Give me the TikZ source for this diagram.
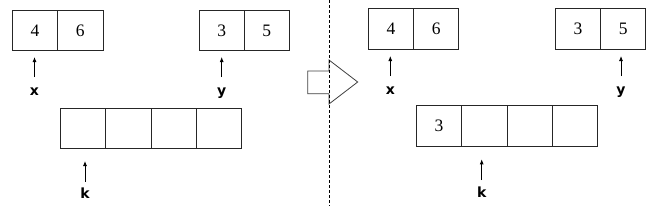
\documentclass[tikz,border=0pt]{standalone}
\usepackage{fontspec}
\setmainfont{Liberation Serif}
\newfontfamily\lblfont{DejaVu Sans}
\usetikzlibrary{arrows.meta}
\tikzset{
  cell/.style={draw=black!85, line width=0.9pt, minimum width=45.3pt, minimum height=40.5pt, inner sep=0pt, font=\fontsize{17.5}{17.5}\selectfont},
  lbl/.style={anchor=base, inner sep=0pt, font=\lblfont\bfseries\fontsize{14}{14}\selectfont},
  ptr/.style={line width=0.8pt, -{Latex[length=5pt,width=4pt]}},
  sep/.style={line width=0.8pt, dash pattern=on 3pt off 2pt},
  blockarrow/.style={draw=black!75, line width=0.8pt, fill=white}
}
\begin{document}
\begin{tikzpicture}[x=1pt,y=-1pt]
\useasboundingbox (0,0) rectangle (658,206);
% ---------- left panel ----------
\node[cell] (Lx1) at (34.9,30.5) {4};
\node[cell] (Lx2) at (80.3,30.5) {6};
\node[cell] (Ly1) at (221.8,30.5) {3};
\node[cell] (Ly2) at (266.8,30.5) {5};
\node[cell] (Lk1) at (83.0,128.2) {};
\node[cell] (Lk2) at (128.3,128.2) {};
\node[cell] (Lk3) at (173.6,128.2) {};
\node[cell] (Lk4) at (218.9,128.2) {};
\node[lbl] (Lxl) at (34.5,95) {x};
\node[lbl] (Lyl) at (221.7,95) {y};
\node[lbl] (Lkl) at (85,198.5) {k};
\coordinate (LxT) at (34.5,77);
\coordinate (LxH) at (34.5,57);
\coordinate (LyT) at (221.7,77);
\coordinate (LyH) at (221.7,57);
\coordinate (LkT) at (85,181.5);
\coordinate (LkH) at (85,161);
\draw[ptr] (LxT) -- (LxH);
\draw[ptr] (LyT) -- (LyH);
\draw[ptr] (LkT) -- (LkH);
% ---------- separator and block arrow ----------
\coordinate (S1) at (329,0);
\coordinate (S2) at (329,206);
\draw[blockarrow] (307.7,71) -- (329,71) -- (329,60) -- (357.7,82) -- (329,104) -- (329,93.7) -- (307.7,93.7) -- cycle;
\draw[sep] (S1) -- (S2);
% ---------- right panel ----------
\node[cell] (Rx1) at (391.0,28.8) {4};
\node[cell] (Rx2) at (436.2,28.8) {6};
\node[cell] (Ry1) at (577.9,28.8) {3};
\node[cell] (Ry2) at (623.2,28.8) {5};
\node[cell] (Rk1) at (439.1,126.0) {3};
\node[cell] (Rk2) at (484.5,126.0) {};
\node[cell] (Rk3) at (529.8,126.0) {};
\node[cell] (Rk4) at (574.9,126.0) {};
\node[lbl] (Rxl) at (390.3,94) {x};
\node[lbl] (Ryl) at (621,94) {y};
\node[lbl] (Rkl) at (481.7,197) {k};
\coordinate (RxT) at (390.3,76);
\coordinate (RxH) at (390.3,56);
\coordinate (RyT) at (621,76);
\coordinate (RyH) at (621,56);
\coordinate (RkT) at (481.7,180);
\coordinate (RkH) at (481.7,159.3);
\draw[ptr] (RxT) -- (RxH);
\draw[ptr] (RyT) -- (RyH);
\draw[ptr] (RkT) -- (RkH);
\end{tikzpicture}
\end{document}
